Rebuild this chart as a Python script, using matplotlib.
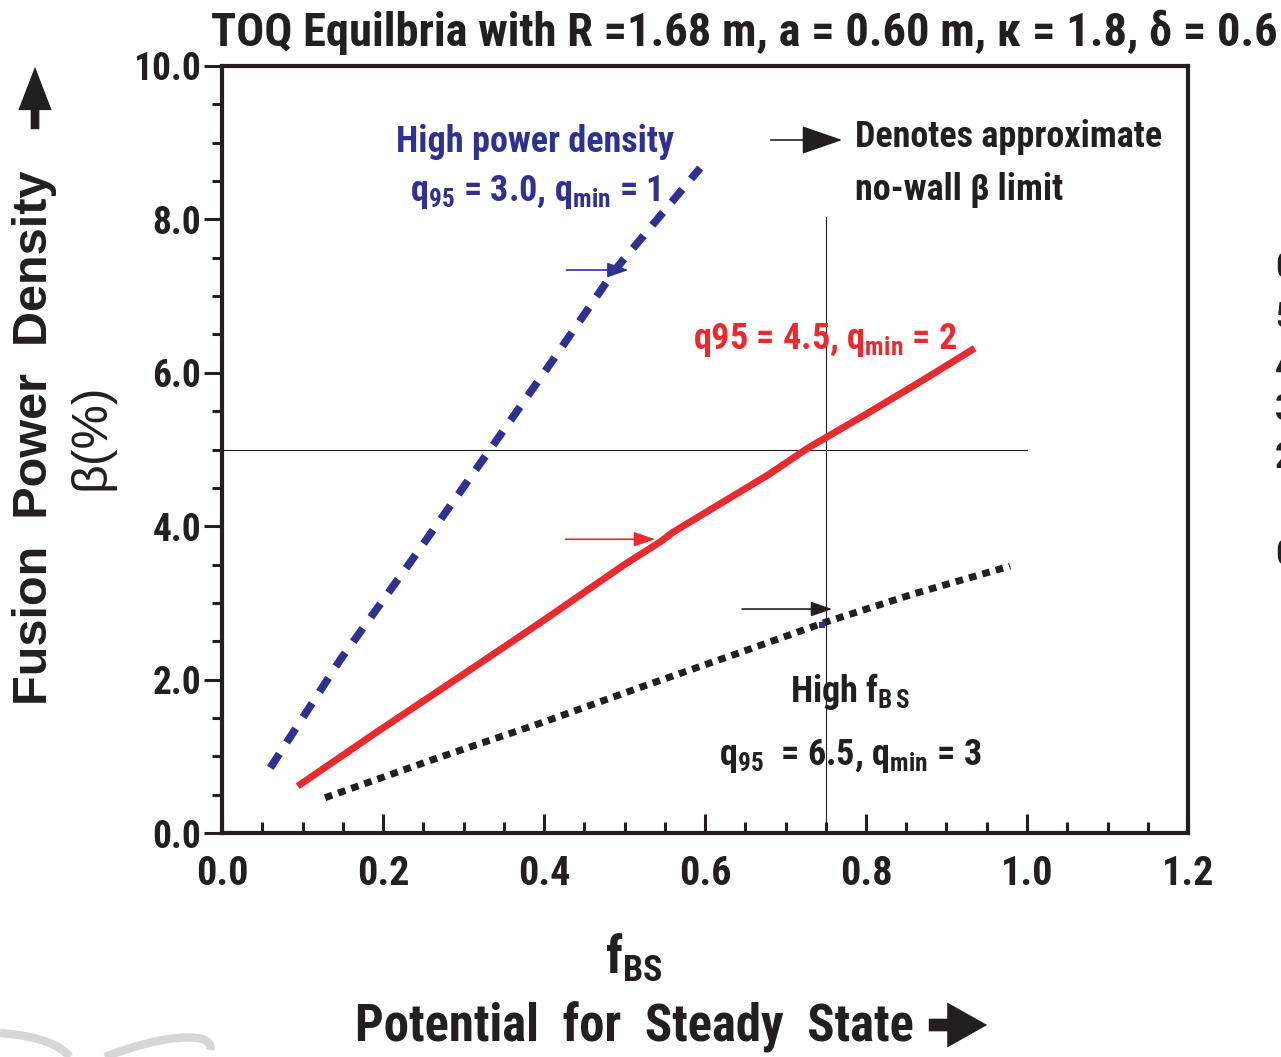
import matplotlib
matplotlib.use("Agg")
import matplotlib.pyplot as plt
from matplotlib.patches import FancyArrowPatch, PathPatch
from matplotlib.path import Path

# ---------------- data ----------------
blue_x = [0.06, 0.147, 0.24, 0.333, 0.41, 0.488, 0.594]
blue_y = [0.85, 2.26, 3.62, 5.00, 6.15, 7.34, 8.67]

red_x = [0.094, 0.19, 0.30, 0.395, 0.50, 0.545, 0.56, 0.62, 0.68, 0.728, 0.80, 0.87, 0.935]
red_y = [0.61, 1.30, 2.07, 2.74, 3.50, 3.80, 3.92, 4.30, 4.68, 5.02, 5.46, 5.90, 6.32]

black_x = [0.128, 0.26, 0.395, 0.52, 0.64, 0.75, 0.86, 0.979]
black_y = [0.46, 0.95, 1.43, 1.90, 2.34, 2.75, 3.12, 3.48]

limit_x = 0.75      # vertical reference line
limit_y = 5.0       # horizontal reference line

# arrows marking approximate no-wall beta limit: (x_start, x_end, y)
arrow_blue = (0.428, 0.505, 7.34)
arrow_red = (0.427, 0.538, 3.83)
arrow_black = (0.646, 0.758, 2.92)

xticks = [0.0, 0.2, 0.4, 0.6, 0.8, 1.0, 1.2]
yticks = [0.0, 2.0, 4.0, 6.0, 8.0, 10.0]

BLUE = "#2e3192"
RED = "#ea2a2f"
BLACK = "#231f20"
COND = ["Roboto Condensed", "DejaVu Sans"]

plt.rcParams["mathtext.fontset"] = "custom"
plt.rcParams["mathtext.rm"] = "Roboto Condensed:bold"
plt.rcParams["mathtext.it"] = "Roboto Condensed:bold"
plt.rcParams["mathtext.bf"] = "Roboto Condensed:bold"

W, H = 1281, 1057
fig = plt.figure(figsize=(W / 100, H / 100), dpi=100)


def px(x, y):
    return (x / W, 1 - y / H)


ax_l, ax_r, ax_b, ax_t = 222, 1188, 833, 66
ax = fig.add_axes([ax_l / W, 1 - ax_b / H, (ax_r - ax_l) / W, (ax_b - ax_t) / H])
ax.set_xlim(0, 1.2)
ax.set_ylim(0, 10)

for s in ax.spines.values():
    s.set_linewidth(3)
    s.set_color(BLACK)

ax.set_xticks(xticks)
ax.set_xticklabels([f"{v:.1f}" for v in xticks])
ax.set_yticks(yticks)
ax.set_yticklabels([f"{v:.1f}" for v in yticks])
ax.set_xticks([i * 0.05 for i in range(25)], minor=True)
ax.set_yticks([i * 0.5 for i in range(21)], minor=True)
ax.tick_params(axis="x", which="major", direction="in", length=14, width=2.2, pad=16, color=BLACK)
ax.tick_params(axis="x", which="minor", direction="in", length=8, width=2.2, color=BLACK)
ax.tick_params(axis="y", which="major", direction="out", length=13, width=2.2, pad=2, color=BLACK)
ax.tick_params(axis="y", which="minor", direction="out", length=7, width=2.2, color=BLACK)
for lab in ax.get_xticklabels():
    lab.set_fontfamily(COND)
    lab.set_fontweight("bold")
    lab.set_fontsize(29)
    lab.set_color(BLACK)
for lab in ax.get_yticklabels():
    lab.set_fontfamily(COND)
    lab.set_fontweight("bold")
    lab.set_fontsize(27)
    lab.set_color(BLACK)

# reference lines
ax.plot([limit_x, limit_x], [0, 8.03], color=BLACK, lw=0.8)
ax.plot([0, 1.0], [limit_y, limit_y], color=BLACK, lw=0.8)

# curves
lb, = ax.plot(blue_x, blue_y, color=BLUE, lw=5.6, solid_capstyle="butt", dash_capstyle="butt")
lb.set_dashes((2.13, 1.75))
ax.plot(red_x, red_y, color=RED, lw=5, solid_capstyle="butt")
lk, = ax.plot(black_x, black_y, color=BLACK, lw=5, dash_capstyle="butt")
lk.set_dashes((1.1, 0.9))
ax.plot([0.745], [2.71], marker="s", color=BLUE, ms=5, mew=0)

# arrows
for (x0, x1, y), c in [(arrow_blue, BLUE), (arrow_red, RED), (arrow_black, BLACK)]:
    ax.annotate("", xy=(x1, y), xytext=(x0, y),
                arrowprops=dict(arrowstyle="-|>,head_length=1.3,head_width=0.45", color=c, lw=1.2,
                                shrinkA=0, shrinkB=0))

# legend arrow (figure coords)
fig.add_artist(FancyArrowPatch(px(768, 140), px(845, 140), transform=fig.transFigure,
                               arrowstyle="-|>,head_length=1.3,head_width=0.45", color=BLACK, lw=1.2,
                               mutation_scale=20))

tk = dict(family=COND, fontweight="bold")
fs = 26
# annotations
fig.text(*px(535, 142), "High power density", color=BLUE, fontsize=fs, ha="center", va="center", **tk)
fig.text(*px(535, 192), r"q$_{95}$ = 3.0, q$_{\rm min}$ = 1", color=BLUE, fontsize=fs, ha="center", va="center", **tk)
fig.text(*px(855, 137), "Denotes approximate", color=BLACK, fontsize=fs, ha="left", va="center", **tk)
fig.text(*px(855, 190), "no-wall β limit", color=BLACK, fontsize=fs, ha="left", va="center", **tk)
fig.text(*px(825, 340), r"q95 = 4.5, q$_{\rm min}$ = 2", color=RED, fontsize=fs, ha="center", va="center", **tk)
fig.text(*px(850, 692), r"High f$_{\rm B\,S}$", color=BLACK, fontsize=fs, ha="center", va="center", **tk)
fig.text(*px(850, 756), r"q$_{95}$  = 6.5, q$_{\rm min}$ = 3", color=BLACK, fontsize=fs, ha="center", va="center", **tk)

# title
fig.text(*px(744, 32), "TOQ Equilbria with R =1.68 m, a = 0.60 m, κ = 1.8, δ = 0.6",
         color=BLACK, fontsize=33.5, ha="center", va="center", **tk)

# x label
fig.text(*px(634, 958), r"f$_{\rm BS}$", color=BLACK, fontsize=37, ha="center", va="center", **tk)
fig.text(*px(634, 1027), "Potential  for  Steady  State", color=BLACK, fontsize=36.5, ha="center", va="center", **tk)
fig.add_artist(FancyArrowPatch(px(926, 1025), px(990, 1025), transform=fig.transFigure,
                               arrowstyle="simple,head_length=1.2,head_width=1.35,tail_width=0.38",
                               color=BLACK, lw=0, mutation_scale=24))

# y label
fig.text(*px(35, 438), "Fusion  Power  Density", color=BLACK, fontsize=35, ha="center", va="center",
         rotation=90, family=["Liberation Sans", "DejaVu Sans"], fontweight="bold")
fig.text(*px(92, 437), "β(%)", color=BLACK, fontsize=36, ha="center", va="center", rotation=90,
         family=["Liberation Sans", "DejaVu Sans"])
fig.add_artist(FancyArrowPatch(px(35, 132), px(35, 64), transform=fig.transFigure,
                               arrowstyle="simple,head_length=1.3,head_width=1.0,tail_width=0.26",
                               color=BLACK, lw=0, mutation_scale=24))

# cut-off scale glyphs at right edge
for yy, t in [(268, "0"), (318, "5"), (368, "4"), (410, "3"), (458, "2"), (555, "0")]:
    fig.text(*px(1275, yy), t, color=BLACK, fontsize=26, ha="left", va="center", **tk)

# faint swirl at lower left
verts = [px(0, 1033), px(40, 1036), px(60, 1045), px(70, 1057)]
fig.add_artist(PathPatch(Path(verts, [Path.MOVETO, Path.CURVE4, Path.CURVE4, Path.CURVE4]),
                         transform=fig.transFigure, fill=False, ec="#d4d6d8", lw=6))
verts = [px(105, 1057), px(160, 1035), px(215, 1030), px(210, 1050)]
fig.add_artist(PathPatch(Path(verts, [Path.MOVETO, Path.CURVE4, Path.CURVE4, Path.CURVE4]),
                         transform=fig.transFigure, fill=False, ec="#d4d6d8", lw=6))

fig.savefig("out.png", dpi=100)
